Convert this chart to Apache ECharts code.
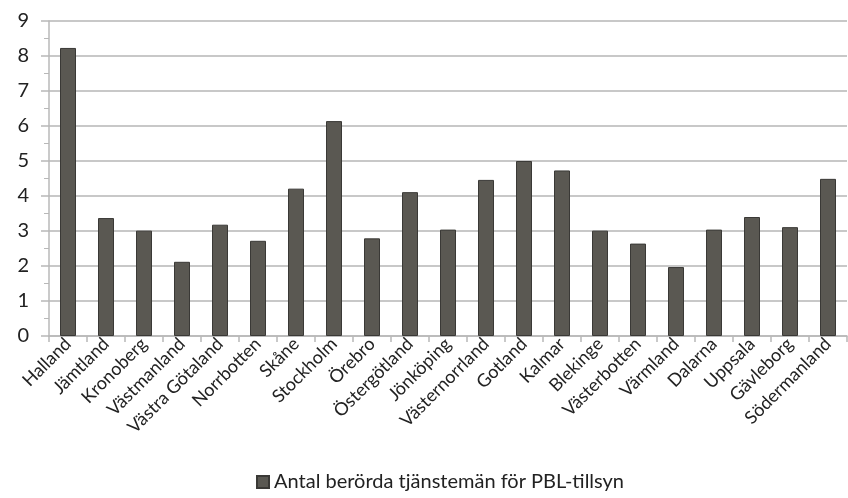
<!DOCTYPE html>
<html><head><meta charset="utf-8">
<script src="https://cdn.jsdelivr.net/npm/echarts@6/dist/echarts.min.js"></script>
<style>html,body{margin:0;padding:0;background:#fff}#c{width:848px;height:498px}</style>
</head><body><div id="c"></div>
<script>
const categories = ["Halland","Jämtland","Kronoberg","Västmanland","Västra Götaland","Norrbotten","Skåne","Stockholm","Örebro","Östergötland","Jönköping","Västernorrland","Gotland","Kalmar","Blekinge","Västerbotten","Värmland","Dalarna","Uppsala","Gävleborg","Södermanland"];
const values = [8.23,3.37,3.01,2.12,3.18,2.72,4.21,6.14,2.79,4.11,3.04,4.46,5.0,4.73,3.01,2.64,1.97,3.04,3.40,3.11,4.49];
const seriesName = "Antal berörda tjänstemän för PBL-tillsyn";
const yTicks = [0,1,2,3,4,5,6,7,8,9];
const FONT = "Lato";
const chart = echarts.init(document.getElementById('c'));
chart.setOption({
  animation:false,
  textStyle:{fontFamily:FONT},
  grid:{left:49,right:1,top:21,bottom:162,containLabel:false},
  legend:{top:472,left:256,padding:[0,0,0,0],icon:'rect',itemWidth:12,itemHeight:12,itemGap:4,
    textStyle:{fontFamily:FONT,fontSize:20,color:'#222'},data:[seriesName]},
  xAxis:{type:'category',data:categories,
    axisLine:{lineStyle:{color:'#b8b8b8',width:1.5}},
    axisTick:{show:true,alignWithLabel:false,length:6,lineStyle:{color:'#b8b8b8',width:1.5}},
    axisLabel:{rotate:45,interval:0,margin:5,fontFamily:FONT,fontSize:18,color:'#222'}},
  yAxis:{type:'value',min:yTicks[0],max:yTicks[yTicks.length-1],interval:1,
    axisLine:{show:true,lineStyle:{color:'#b8b8b8',width:1.5}},
    axisTick:{show:true,length:8,lineStyle:{color:'#b8b8b8',width:1.5}},
    minorTick:{show:true,splitNumber:2,length:5,lineStyle:{color:'#b8b8b8',width:1}},
    splitLine:{lineStyle:{color:'#c8c8c8',width:2}},
    axisLabel:{margin:20,fontFamily:FONT,fontSize:20,color:'#222'}},
  series:[{name:seriesName,type:'bar',data:values,barWidth:16,
    itemStyle:{color:'#5a5852',borderColor:'#3a3936',borderWidth:1}}]
});
</script></body></html>
